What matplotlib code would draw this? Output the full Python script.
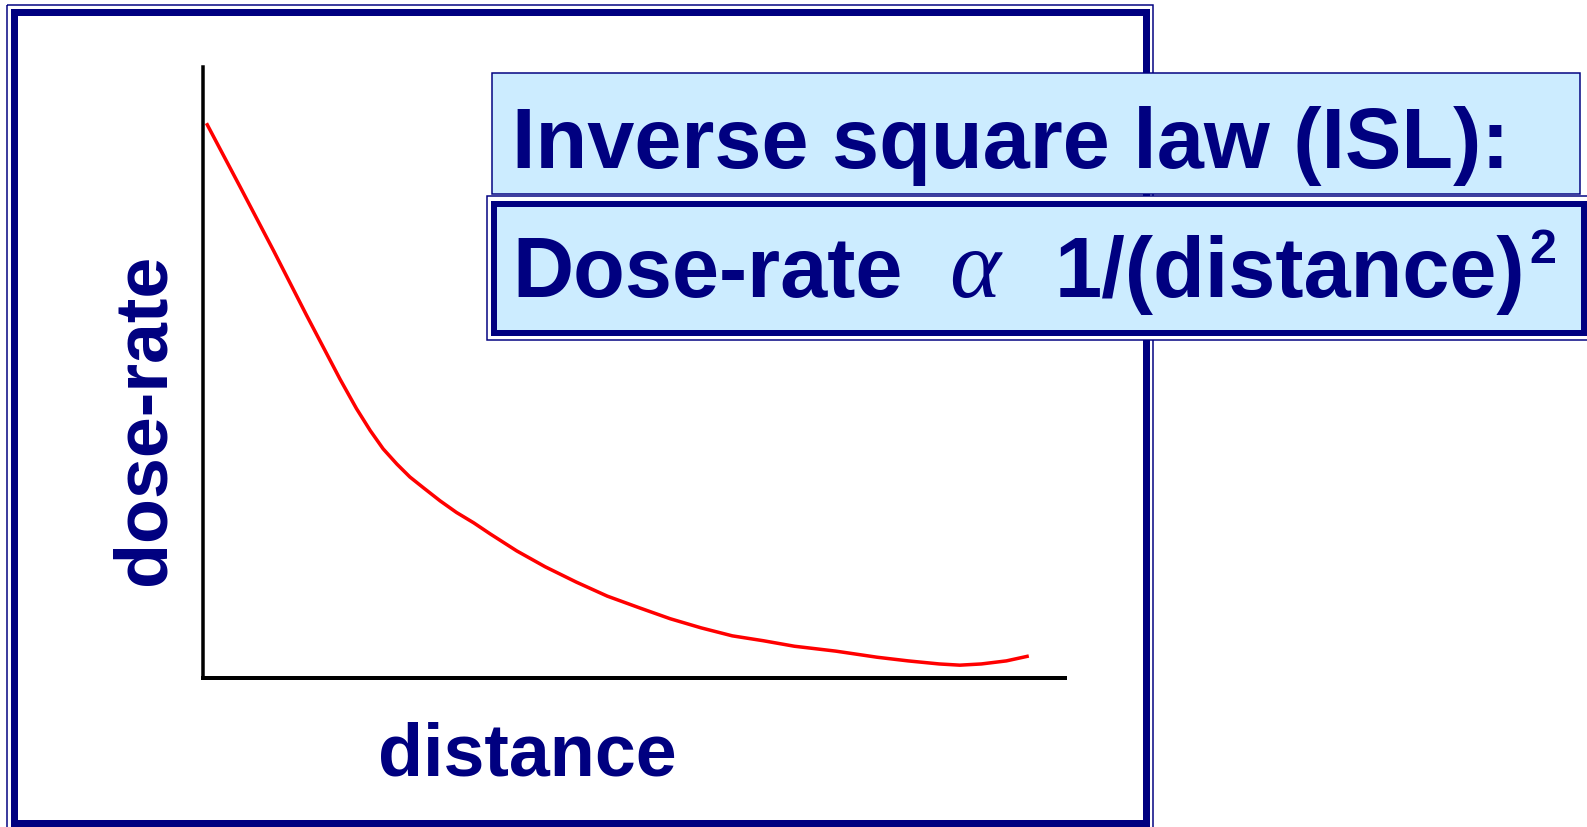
import matplotlib.pyplot as plt
from matplotlib.patches import Rectangle

# curve (arbitrary units, 0-100 on both axes)
distance = [0.4, 4.3, 8.2, 12.0, 15.9, 17.8,
            19.4, 20.9, 22.5, 24.0, 25.6, 27.5, 29.4, 31.4, 33.3, 36.4,
            39.7, 43.3, 46.9, 50.6, 54.2, 57.8, 61.4, 65.0, 68.6, 73.4,
            75.8, 78.2, 81.8, 85.4, 87.8, 90.3, 93.2, 95.8]
dose_rate = [90.8, 80.4, 69.9, 59.4, 48.9, 44.1,
             40.5, 37.5, 35.0, 32.9, 31.1, 29.0, 27.1, 25.4, 23.6, 20.8,
             18.2, 15.7, 13.4, 11.5, 9.7, 8.2, 6.9, 6.1, 5.2, 4.4,
             3.9, 3.4, 2.8, 2.3, 2.1, 2.3, 2.8, 3.6]

title_1 = 'Inverse square law (ISL):'
title_2 = 'Dose-rate'
prop_sign = 'α'
title_3 = '1/(distance)'
x_label = 'distance'
y_label = 'dose-rate'

navy = '#000080'
light_blue = '#CCECFF'
W, H = 1587, 828

fig = plt.figure(figsize=(W / 100, H / 100), dpi=100)

# background axes in pixel coordinates for frames and text
bg = fig.add_axes([0, 0, 1, 1])
bg.set_xlim(0, W)
bg.set_ylim(H, 0)
bg.axis('off')

px = 0.72  # one pixel in points

# outer double frame
bg.add_patch(Rectangle((6.5, 5.5), 1146, 840, fill=False, ec=navy, lw=1.5 * px, zorder=1))
bg.add_patch(Rectangle((14, 12.5), 1132, 812, fill=False, ec=navy, lw=7 * px, zorder=1))

# first text box
bg.add_patch(Rectangle((492, 74), 1088, 121, fc=light_blue, ec=navy, lw=1.5 * px, zorder=3))
# second text box with double border
bg.add_patch(Rectangle((487, 197), 1110, 144, fc='white', ec=navy, lw=1.5 * px, zorder=3))
bg.add_patch(Rectangle((494, 205), 1090, 129, fc=light_blue, ec=navy, lw=6 * px, zorder=4))

bold = dict(family=['Liberation Sans', 'DejaVu Sans'], weight='bold', color=navy)
bg.text(512, 168, title_1, fontsize=61, ha='left', va='baseline', zorder=5, **bold)
bg.text(512, 297, title_2, fontsize=61, ha='left', va='baseline', zorder=5, **bold)
bg.text(949, 297, prop_sign, fontsize=70, ha='left', va='baseline', zorder=5,
        family=['Liberation Serif', 'DejaVu Serif'], style='italic', color=navy)
bg.text(1055, 297, title_3, fontsize=61, ha='left', va='baseline', zorder=5, **bold)
bg.text(1529, 263, '2', fontsize=35, ha='left', va='baseline', zorder=5, **bold)

bg.text(527, 776, x_label, fontsize=53, ha='center', va='baseline', **bold)
bg.text(164, 419, y_label, fontsize=53, ha='center', va='baseline', rotation=90,
        rotation_mode='anchor', **bold)

# the plot itself
ax = fig.add_axes([203 / W, 1 - 679 / H, 862 / W, 611 / H])
ax.set_facecolor('none')
ax.plot(distance, dose_rate, color='red', lw=3.5 * px, solid_capstyle='butt')
ax.set_xlim(0, 100)
ax.set_ylim(0, 100)
ax.set_xticks([])
ax.set_yticks([])
ax.spines['top'].set_visible(False)
ax.spines['right'].set_visible(False)
ax.spines['left'].set_linewidth(3.5 * px)
ax.spines['bottom'].set_linewidth(4 * px)

fig.savefig('out.png', dpi=100)
